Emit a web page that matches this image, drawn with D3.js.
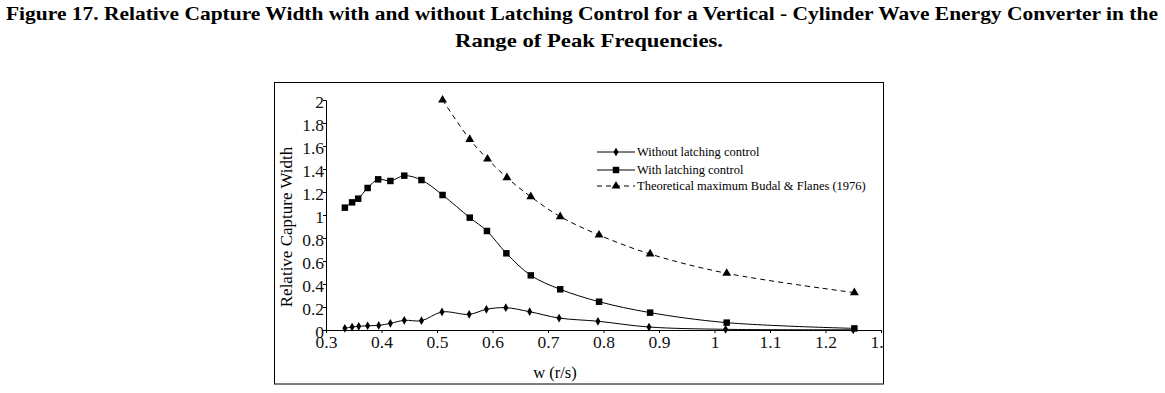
<!DOCTYPE html>
<html>
<head>
<meta charset="UTF-8">
<script src="https://d3js.org/d3.v7.min.js"></script>
<style>
  body { margin: 0; background: #fff; }
  svg { display: block; font-family: "Liberation Serif", "DejaVu Serif", serif; }
</style>
</head>
<body>
<div id="chart"></div>
<script>
// data
const wNoLatch = [0.334, 0.347, 0.359, 0.375, 0.395, 0.416, 0.441, 0.472, 0.509, 0.558, 0.589, 0.624, 0.667, 0.72, 0.79, 0.882, 1.02, 1.25];
const cwNoLatch = [0.015, 0.026, 0.032, 0.037, 0.04, 0.058, 0.084, 0.081, 0.157, 0.136, 0.18, 0.194, 0.159, 0.104, 0.076, 0.026, 0.006, 0.002];
const wLatch = [0.334, 0.347, 0.358, 0.375, 0.394, 0.416, 0.441, 0.472, 0.510, 0.559, 0.590, 0.625, 0.669, 0.722, 0.792, 0.884, 1.022, 1.252];
const cwLatch = [1.064, 1.11, 1.142, 1.235, 1.31, 1.296, 1.342, 1.304, 1.174, 0.977, 0.861, 0.667, 0.475, 0.354, 0.246, 0.151, 0.064, 0.014];
const wTheory = [0.510, 0.559, 0.591, 0.626, 0.669, 0.722, 0.792, 0.884, 1.022, 1.252];
const cwTheory = [2.0, 1.658, 1.487, 1.325, 1.159, 0.986, 0.826, 0.661, 0.493, 0.325];
const xTicks = [0.3, 0.4, 0.5, 0.6, 0.7, 0.8, 0.9, 1, 1.1, 1.2, 1.3];
const yTicks = [0, 0.2, 0.4, 0.6, 0.8, 1, 1.2, 1.4, 1.6, 1.8, 2];
const seriesNames = ["Without latching control", "With latching control", "Theoretical maximum Budal & Flanes (1976)"];

const width = 1165, height = 393;
const svg = d3.select("#chart").append("svg")
  .attr("width", width).attr("height", height);

// title
svg.append("text")
  .attr("x", 582).attr("y", 20)
  .attr("text-anchor", "middle")
  .attr("font-weight", "bold").attr("font-size", 19)
  .attr("textLength", 1152).attr("lengthAdjust", "spacingAndGlyphs")
  .text("Figure 17. Relative Capture Width with and without Latching Control for a Vertical - Cylinder Wave Energy Converter in the");
svg.append("text")
  .attr("x", 589).attr("y", 47)
  .attr("text-anchor", "middle")
  .attr("font-weight", "bold").attr("font-size", 19)
  .attr("textLength", 268).attr("lengthAdjust", "spacingAndGlyphs")
  .text("Range of  Peak Frequencies.");

const x = d3.scaleLinear().domain([0.3, 1.3]).range([326, 881]);
const y = d3.scaleLinear().domain([0, 2]).range([330, 100]);

// axes
const fmt = d => d3.format("")(d);
const xAxis = d3.axisBottom(x).tickValues(xTicks).tickSize(3).tickFormat(fmt);
const yAxis = d3.axisLeft(y).tickValues(yTicks).tickSize(3).tickFormat(fmt);

const gx = svg.append("g").attr("transform", "translate(0,330)").call(xAxis);
const gy = svg.append("g").attr("transform", "translate(326,0)").call(yAxis);
[gx, gy].forEach(g => {
  g.select(".domain").attr("stroke", "#000");
  g.selectAll(".tick line").attr("stroke", "#000");
  g.selectAll("text").attr("fill", "#111").attr("font-size", 17.5)
    .attr("font-family", "Liberation Serif, serif");
});
gx.selectAll("text").attr("y", 6).attr("dy", "0.71em");
gy.selectAll("text").attr("x", -2).attr("dy", "0.42em");

// white out beyond the frame (the 1.3 label is cut in the original)
svg.append("rect").attr("x", 884).attr("y", 300).attr("width", 30).attr("height", 60).attr("fill", "#fff");

// outer frame
svg.append("rect")
  .attr("x", 274.5).attr("y", 82.5).attr("width", 609).attr("height", 301.5)
  .attr("fill", "none").attr("stroke", "#000").attr("stroke-width", 1);

// axis titles
svg.append("text")
  .attr("transform", "translate(292,227) rotate(-90)")
  .attr("text-anchor", "middle").attr("font-size", 17)
  .text("Relative Capture Width");
svg.append("text")
  .attr("x", 555).attr("y", 378)
  .attr("text-anchor", "middle").attr("font-size", 16.5)
  .text("w (r/s)");

const line = d3.line().x(d => x(d[0])).y(d => y(d[1])).curve(d3.curveCatmullRom.alpha(0.5));

const series = [
  { xs: wNoLatch, ys: cwNoLatch, dash: null, sym: d3.symbolDiamond, size: 22 },
  { xs: wLatch, ys: cwLatch, dash: null, sym: d3.symbolSquare, size: 42 },
  { xs: wTheory, ys: cwTheory, dash: "5,4", sym: d3.symbolTriangle, size: 34 }
];

series.forEach(s => {
  const pts = s.xs.map((v, i) => [v, s.ys[i]]);
  svg.append("path").datum(pts)
    .attr("d", line)
    .attr("fill", "none").attr("stroke", "#000").attr("stroke-width", 1)
    .attr("stroke-dasharray", s.dash);
  svg.append("g").selectAll("path").data(pts).enter().append("path")
    .attr("transform", d => `translate(${x(d[0])},${y(d[1])})`)
    .attr("d", d3.symbol().type(s.sym).size(s.size))
    .attr("fill", "#000");
});

// legend
const legend = svg.append("g");
const rowsY = [152, 170, 186];
series.forEach((s, i) => {
  legend.append("line")
    .attr("x1", 597).attr("x2", 635).attr("y1", rowsY[i]).attr("y2", rowsY[i])
    .attr("stroke", "#000").attr("stroke-width", 1)
    .attr("stroke-dasharray", s.dash);
  legend.append("path")
    .attr("transform", `translate(616,${rowsY[i]})`)
    .attr("d", d3.symbol().type(s.sym).size(s.size))
    .attr("fill", "#000");
  legend.append("text")
    .attr("x", 637).attr("y", rowsY[i]).attr("dy", "0.32em")
    .attr("font-size", 12.5)
    .text(seriesNames[i]);
});
</script>
</body>
</html>
